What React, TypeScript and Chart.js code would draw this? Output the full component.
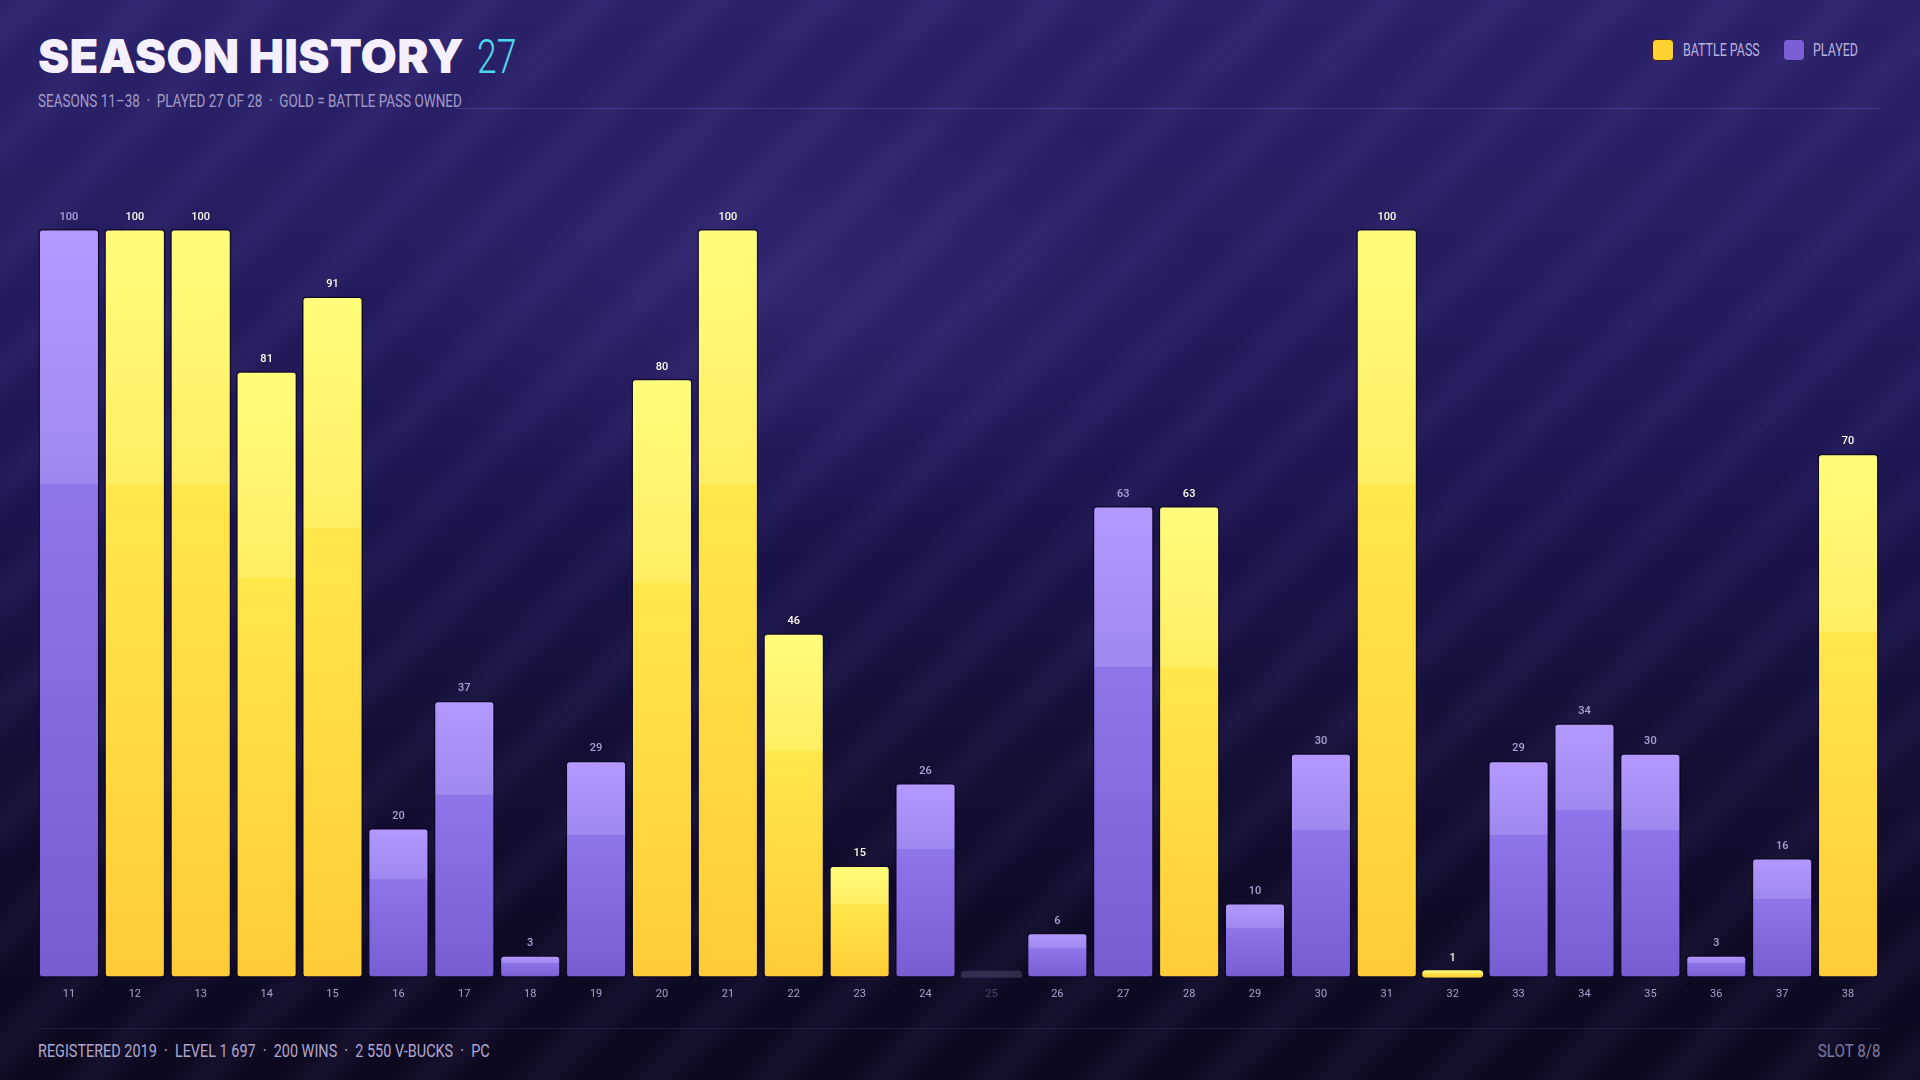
import React, { useEffect, useRef } from "react";
import { Chart, registerables } from "chart.js";

Chart.register(...registerables);

const seasons = ["11","12","13","14","15","16","17","18","19","20","21","22","23","24","25","26","27","28","29","30","31","32","33","34","35","36","37","38"];
const tierValues = [100,100,100,81,91,20,37,3,29,80,100,46,15,26,0,6,63,63,10,30,100,1,29,34,30,3,16,70];
const battlePassOwned = [false,true,true,true,true,false,false,false,false,true,true,true,true,false,false,false,false,true,false,false,true,true,false,false,false,false,false,true];

const COND = "Roboto,'Liberation Sans','Noto Sans',sans-serif";
const TITLE = "Inter,'Open Sans','Noto Sans',sans-serif";

function barGradient(ctx: CanvasRenderingContext2D, top: number, base: number, gold: boolean) {
  const g = ctx.createLinearGradient(0, top, 0, base);
  if (gold) {
    g.addColorStop(0, "#fffd7c");
    g.addColorStop(0.34, "#ffee63");
    g.addColorStop(0.341, "#ffe74c");
    g.addColorStop(1, "#ffcc37");
  } else {
    g.addColorStop(0, "#b499ff");
    g.addColorStop(0.34, "#9e88ee");
    g.addColorStop(0.341, "#8f75ea");
    g.addColorStop(1, "#785cd2");
  }
  return g;
}

const labelPlugin = {
  id: "valueLabels",
  beforeDatasetsDraw(chart: any) {
    const meta = chart.getDatasetMeta(0);
    const ctx = chart.ctx;
    ctx.save();
    meta.data.forEach((bar: any, i: number) => {
      if (tierValues[i] !== 0) return;
      const w = bar.width;
      const x = bar.x - w / 2;
      const h = 7;
      ctx.fillStyle = "rgba(110,100,150,0.35)";
      ctx.beginPath();
      ctx.roundRect(x, bar.base - h, w, h, [3, 3, 0, 0]);
      ctx.fill();
    });
    ctx.restore();
  },
  afterDatasetsDraw(chart: any) {
    const meta = chart.getDatasetMeta(0);
    const ctx = chart.ctx;
    ctx.save();
    ctx.font = `500 11px ${COND}`;
    ctx.textAlign = "center";
    ctx.textBaseline = "middle";
    meta.data.forEach((bar: any, i: number) => {
      const v = tierValues[i];
      if (!v) return;
      ctx.fillStyle = battlePassOwned[i] ? "#fffbea" : "rgba(196,186,236,0.85)";
      ctx.fillText(String(v), bar.x, bar.y - 12);
    });
    ctx.restore();
  },
};

function SeasonChart() {
  const ref = useRef<HTMLCanvasElement>(null);
  useEffect(() => {
    if (!ref.current) return;
    const chart = new Chart(ref.current, {
      type: "bar",
      data: {
        labels: seasons,
        datasets: [
          {
            label: "Tier",
            data: tierValues,
            backgroundColor: (c: any) => {
              const chartObj = c.chart;
              const y = chartObj.scales.y;
              const i = c.dataIndex;
              if (!y || i === undefined || !chartObj.chartArea) return battlePassOwned[i] ? "#ffd83f" : "#8a70e6";
              const top = y.getPixelForValue(tierValues[i]);
              const base = y.getPixelForValue(0);
              return barGradient(chartObj.ctx, Math.min(top, base - 1), base, battlePassOwned[i]);
            },
            borderColor: "rgba(14,8,34,0.85)",
            borderWidth: (c: any) => (tierValues[c.dataIndex] <= 1 ? 0 : 1.5),
            borderSkipped: false,
            borderRadius: 4,
            barPercentage: 0.926,
            categoryPercentage: 1,
          },
        ],
      },
      options: {
        animation: false,
        responsive: true,
        maintainAspectRatio: false,
        layout: { padding: { top: 89, left: 0, right: 0, bottom: 0 } },
        plugins: { legend: { display: false }, tooltip: { enabled: false }, title: { display: false } },
        scales: {
          x: {
            grid: { display: false, drawTicks: false },
            border: { display: false },
            ticks: {
              padding: 10,
              font: { family: COND, size: 11 },
              color: (c: any) => (tierValues[c.index] === 0 ? "rgba(150,140,190,0.45)" : "#a9a2cb"),
            },
          },
          y: {
            display: false,
            min: 0,
            max: 100,
          },
        },
      },
      plugins: [labelPlugin],
    });
    return () => chart.destroy();
  }, []);
  return (
    <div style={{ position: "absolute", left: 36, top: 140, width: 1845, height: 871 }}>
      <canvas ref={ref} />
    </div>
  );
}

function Cond({ children, size, color, origin = "left", sx = 0.84, weight = 400, style = {} }: any) {
  return (
    <span
      style={{
        display: "inline-block",
        fontFamily: COND,
        fontSize: size,
        color,
        fontWeight: weight,
        transform: `scaleX(${sx})`,
        transformOrigin: origin,
        whiteSpace: "nowrap",
        ...style,
      }}
    >
      {children}
    </span>
  );
}

export default function App() {
  const bg =
    "repeating-linear-gradient(135deg, rgba(170,150,255,0) 0px, rgba(170,150,255,0.05) 20px, rgba(170,150,255,0.05) 30px, rgba(170,150,255,0) 50px, rgba(170,150,255,0) 80px)," +
    "radial-gradient(ellipse 600px 320px at 800px 300px, rgba(90,70,170,0.22), rgba(90,70,170,0) 70%)," +
    "linear-gradient(180deg, #2b216a 0%, #261d60 22%, #1d1550 45%, #150f38 68%, #0f0a26 85%, #0d0920 100%)";
  const sep = "\u00a0\u00a0·\u00a0\u00a0";
  return (
    <div style={{ position: "fixed", left: 0, top: 0, width: 1920, height: 1080, background: bg, overflow: "hidden", fontFamily: COND }}>
      <div style={{ position: "absolute", left: 38, top: 30, display: "flex", alignItems: "baseline", whiteSpace: "nowrap" }}>
        <span style={{ fontFamily: TITLE, fontWeight: 900, fontSize: 47, color: "#f4f0ff", letterSpacing: 0.2, lineHeight: "52px" }}>SEASON HISTORY</span>
        <Cond size={48} color="#4fd6ef" weight={300} sx={0.74} style={{ marginLeft: 13, lineHeight: "52px" }}>27</Cond>
      </div>
      <div style={{ position: "absolute", left: 38, right: 39, top: 91, height: 20 }}>
        <Cond size={17.5} color="#a29bc6" sx={0.77} style={{ position: "absolute", left: 0, top: 0 }}>
          {"SEASONS 11–38" + sep + "PLAYED 27 OF 28" + sep + "GOLD = BATTLE PASS OWNED"}
        </Cond>
        <div style={{ position: "absolute", left: 418, right: 0, top: 17, height: 1, background: "rgba(150,130,240,0.22)" }} />
      </div>
      <div style={{ position: "absolute", left: 1652, top: 39, height: 22 }}>
        <span style={{ position: "absolute", left: 0, top: 0, width: 20, height: 20, borderRadius: 4, background: "#ffd233", border: "1px solid #3a1a20" }} />
        <Cond size={17.5} color="#b8b0dc" sx={0.71} style={{ position: "absolute", left: 31, top: 0, lineHeight: "22px" }}>BATTLE PASS</Cond>
        <span style={{ position: "absolute", left: 131, top: 0, width: 20, height: 20, borderRadius: 4, background: "#7a5fd6", border: "1px solid #2a1f5a" }} />
        <Cond size={17.5} color="#b8b0dc" sx={0.71} style={{ position: "absolute", left: 161, top: 0, lineHeight: "22px" }}>PLAYED</Cond>
      </div>
      <SeasonChart />
      <div style={{ position: "absolute", left: 38, right: 39, top: 1028, height: 1, background: "rgba(130,120,200,0.14)" }} />
      <Cond size={18.5} color="#aea7cf" sx={0.78} style={{ position: "absolute", left: 38, top: 1040 }}>
        {"REGISTERED 2019" + sep + "LEVEL 1 697" + sep + "200 WINS" + sep + "2 550 V-BUCKS" + sep + "PC"}
      </Cond>
      <Cond size={18.5} color="#7f789f" sx={0.82} origin="right" style={{ position: "absolute", right: 39, top: 1040 }}>SLOT 8/8</Cond>
    </div>
  );
}
